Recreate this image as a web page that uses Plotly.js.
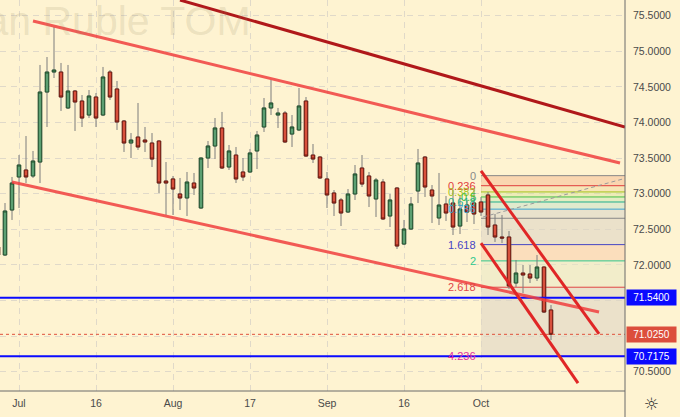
<!DOCTYPE html>
<html>
<head>
<meta charset="utf-8">
<script src="https://cdn.plot.ly/plotly-3.0.1.min.js"></script>
<style>
html,body{margin:0;padding:0;background:#fef3d1;}
#chart{width:680px;height:417px;}
</style>
</head>
<body>
<div id="chart"></div>
<script>
// ---- data ----
const dates = [
 '2021-06-28','2021-06-29','2021-06-30',
 '2021-07-01','2021-07-02','2021-07-05','2021-07-06','2021-07-07','2021-07-08','2021-07-09',
 '2021-07-12','2021-07-13','2021-07-14','2021-07-15','2021-07-16','2021-07-19','2021-07-20',
 '2021-07-21','2021-07-22','2021-07-23','2021-07-26','2021-07-27','2021-07-28','2021-07-29','2021-07-30',
 '2021-08-02','2021-08-03','2021-08-04','2021-08-05','2021-08-06','2021-08-09','2021-08-10',
 '2021-08-11','2021-08-12','2021-08-13','2021-08-16','2021-08-17','2021-08-18','2021-08-19',
 '2021-08-20','2021-08-23','2021-08-24','2021-08-25','2021-08-26','2021-08-27','2021-08-30','2021-08-31',
 '2021-09-01','2021-09-02','2021-09-03','2021-09-06','2021-09-07','2021-09-08','2021-09-09',
 '2021-09-10','2021-09-13','2021-09-14','2021-09-15','2021-09-16','2021-09-17','2021-09-20',
 '2021-09-21','2021-09-22','2021-09-23','2021-09-24','2021-09-27','2021-09-28','2021-09-29','2021-09-30',
 '2021-10-01','2021-10-04','2021-10-05','2021-10-06','2021-10-07','2021-10-08','2021-10-11',
 '2021-10-12','2021-10-13','2021-10-14','2021-10-15'
];
const openP = [
 72.251,72.139,72.771,73.235,73.333,73.249,73.445,74.428,74.709,74.709,
 74.204,74.442,74.302,74.105,74.358,74.105,74.709,74.471,74.021,73.712,
 73.796,73.754,73.712,73.740,73.178,73.207,72.996,72.940,73.150,72.799,
 73.501,73.670,73.923,73.375,73.543,73.305,73.305,73.600,73.937,74.204,
 74.105,74.133,73.838,73.895,74.302,73.543,73.515,73.207,73.010,72.912,
 72.743,72.996,73.361,73.249,72.926,73.164,72.687,73.080,72.293,72.504,
 73.038,73.515,73.052,72.659,72.855,72.869,72.546,72.841,72.869,72.883,
 72.982,72.560,72.392,72.392,71.746,71.886,71.872,71.816,71.970,71.367
];
const highP = [
 72.307,72.869,73.235,73.543,73.810,73.600,74.808,74.920,75.341,74.836,
 74.808,74.456,74.386,74.456,74.414,74.780,74.737,74.583,74.035,73.852,
 74.274,73.937,73.852,73.752,73.445,73.249,73.221,73.305,73.291,73.510,
 73.740,74.063,74.148,73.684,73.656,73.501,73.628,73.881,74.344,74.597,
 74.204,74.162,74.105,74.485,74.358,73.698,73.525,73.305,73.052,72.940,
 73.066,73.403,73.543,73.305,73.221,73.207,72.996,73.090,72.631,72.954,
 73.628,73.525,73.122,73.291,72.968,73.052,72.968,72.912,73.052,72.954,
 73.024,72.715,72.701,72.476,72.069,71.999,71.999,72.139,71.980,71.437
];
const lowP = [
 72.097,72.125,72.631,72.799,73.150,73.221,73.150,73.937,74.625,74.162,
 74.190,73.881,73.937,74.063,73.937,74.090,74.316,73.895,73.586,73.501,
 73.614,73.586,73.375,73.010,72.701,72.701,72.771,72.687,72.982,72.790,
 73.361,73.487,73.347,73.333,73.150,73.178,73.295,73.347,73.867,74.105,
 73.923,73.712,73.656,73.880,73.520,73.431,73.210,72.799,72.687,72.546,
 72.729,72.912,73.094,72.813,72.673,72.631,72.532,72.223,72.279,72.490,
 72.869,72.954,72.589,72.560,72.617,72.420,72.434,72.603,72.574,72.687,
 72.420,72.322,72.307,71.662,71.690,71.605,71.746,71.774,71.324,70.945
];
const closeP = [
 72.139,72.757,73.150,73.403,73.235,73.459,74.428,74.709,74.737,74.358,
 74.442,74.288,74.063,74.372,74.063,74.639,74.358,74.007,73.712,73.754,
 73.656,73.726,73.487,73.150,73.150,73.066,72.940,73.164,73.080,73.501,
 73.670,73.923,73.361,73.600,73.207,73.235,73.572,73.824,74.204,74.274,
 74.133,73.726,73.937,74.232,73.529,73.487,73.221,72.982,72.869,72.729,
 72.996,73.277,73.136,72.968,73.192,72.645,72.912,72.265,72.504,72.855,
 73.431,73.094,72.968,72.841,72.729,72.532,72.785,72.743,72.715,72.743,
 72.532,72.392,72.378,71.704,71.886,71.858,71.816,71.970,71.338,71.025
];
const xTickDates = ['2021-07-01','2021-07-16','2021-08-02','2021-08-17','2021-09-01','2021-09-16','2021-10-01'];
const xTickText = ['Jul','16','Aug','17','Sep','16','Oct'];
const yTickVals = [70.5,71.0,71.5,72.0,72.5,73.0,73.5,74.0,74.5,75.0,75.5];
const yTickHidden = [71.0,71.5];
const levelPrices = [71.54, 70.7175];
// Fibonacci extension tool
const fibLevels = [0,0.236,0.382,0.5,0.618,0.786,1,1.618,2,2.618,4.236];
const fibLabelShown = [true,true,true,true,true,true,false,true,true,true,true];
const fibZero = 73.2535;
const fibStep = 0.5986;
const fibStartIdx = 69.0;
// trend lines: bar index + price of both ends
const trendStartIdx   = [5.0,    2.0,    26.0,   69.0,   69.0];
const trendStartPrice = [75.426, 73.164, 75.720, 73.319, 72.307];
const trendEndIdx     = [88.86,  85.86,  89.57,  85.86,  82.86];
const trendEndPrice   = [73.431, 71.338, 73.937, 71.030, 70.341];
const fibGuideIdx   = [69.3, 90.2];
const fibGuidePrice = [72.673, 73.232];

// ---- styles ----
const BG = '#fef3d1';
const FONT = 'Liberation Sans, Arial, sans-serif';
const upFill = '#5c9f72', upLine = '#24532f';
const dnFill = '#d8503c', dnLine = '#6e1a10';
const wickColor = '#7c7c7c';
const trendColors = ['rgba(240,62,62,0.85)','rgba(240,62,62,0.85)','#b0181a','#e02626','#e02626'];
const fibColors = ['#888888','#e03c3c','#a4c41c','#44c044','#1fb08c','#3aa2d2','#888888','#4646c4','#2ec88e','#e04646','#e0329e'];
const fibBandColors = ['rgba(246,190,150,0.55)','rgba(240,215,150,0.45)','rgba(215,228,150,0.45)','rgba(190,228,170,0.4)',
  'rgba(180,220,200,0.4)','rgba(215,212,200,0.55)','rgba(222,214,196,0.6)','rgba(250,212,180,0.7)','rgba(232,232,196,0.55)','rgba(222,214,196,0.6)'];

// ---- build ----
const bodyHigh = openP.map((o,i)=>Math.max(o,closeP[i]));
const bodyLow  = openP.map((o,i)=>Math.min(o,closeP[i]));

const wicks = {
  type:'candlestick', x:dates, open:openP, high:highP, low:lowP, close:closeP,
  increasing:{line:{color:wickColor,width:1}, fillcolor:upFill},
  decreasing:{line:{color:wickColor,width:1}, fillcolor:dnFill},
  whiskerwidth:0, hoverinfo:'skip', showlegend:false
};
const bodies = {
  type:'candlestick', x:dates, open:openP, high:bodyHigh, low:bodyLow, close:closeP,
  increasing:{line:{color:upLine,width:1}, fillcolor:upFill},
  decreasing:{line:{color:dnLine,width:1}, fillcolor:dnFill},
  whiskerwidth:0, hoverinfo:'skip', showlegend:false
};

const shapes = [];
const annotations = [];
const lastIdx = dates.length - 1;
const xEnd = 89.6;

// fib bands + lines
const fibPrice = fibLevels.map(l => fibZero - l*fibStep);
for (let i=0;i<fibLevels.length-1;i++){
  shapes.push({type:'rect', xref:'x', yref:'y', x0:fibStartIdx, x1:xEnd, y0:fibPrice[i], y1:fibPrice[i+1],
    fillcolor:fibBandColors[i], line:{width:0}, layer:'between'});
}
fibLevels.forEach((l,i)=>{
  shapes.push({type:'line', xref:'x', yref:'y', x0:fibStartIdx, x1:xEnd, y0:fibPrice[i], y1:fibPrice[i],
    line:{color:fibColors[i], width:1}, layer:'between'});
  if (fibLabelShown[i]) annotations.push({xref:'x', yref:'y', x:fibStartIdx-0.45, y:fibPrice[i], text:String(l),
    xanchor:'right', yanchor:'middle', showarrow:false, font:{family:FONT,size:11,color:fibColors[i]}});
});
shapes.push({type:'line', xref:'x', yref:'y', x0:fibGuideIdx[0], x1:fibGuideIdx[1], y0:fibGuidePrice[0], y1:fibGuidePrice[1],
  line:{color:'#9a9a9a', width:1, dash:'4px,3px'}, layer:'above'});

// horizontal levels
levelPrices.forEach(p=>{
  shapes.push({type:'line', xref:'paper', yref:'y', x0:0, x1:1, y0:p, y1:p, line:{color:'#0a0aff', width:2}, layer:'above'});
  annotations.push({xref:'paper', yref:'y', x:626/625, y:p, xanchor:'left', yanchor:'middle', text:p.toFixed(4),
    showarrow:false, bgcolor:'#0a0aff', font:{family:FONT,size:10,color:'#ffffff'}, width:45, height:11, borderpad:2});
});
// last price
const lastPrice = closeP[lastIdx];
shapes.push({type:'line', xref:'paper', yref:'y', x0:0, x1:1, y0:lastPrice, y1:lastPrice, line:{color:'#e0503c', width:1, dash:'dot'}, layer:'above'});
annotations.push({xref:'paper', yref:'y', x:626/625, y:lastPrice, xanchor:'left', yanchor:'middle', text:lastPrice.toFixed(4),
  showarrow:false, bgcolor:'#dc4e3c', font:{family:FONT,size:10,color:'#ffffff'}, width:45, height:11, borderpad:2});

// trend lines
trendStartIdx.forEach((x0,i)=>{
  shapes.push({type:'line', xref:'x', yref:'y', x0:x0, x1:trendEndIdx[i], y0:trendStartPrice[i], y1:trendEndPrice[i],
    line:{color:trendColors[i], width:3}, layer:'above'});
});

// axis frame lines
shapes.push({type:'line', xref:'paper', yref:'paper', x0:1, x1:1, y0:-26/391, y1:1, line:{color:'#6a6a6a', width:1}});
shapes.push({type:'line', xref:'paper', yref:'paper', x0:0, x1:1, y0:0, y1:0, line:{color:'#6a6a6a', width:1}});

// watermark
annotations.push({xref:'paper', yref:'paper', x:253/625, y:1+4/391, xanchor:'right', yanchor:'top', text:'Russian Ruble TOM',
  showarrow:false, font:{family:FONT, size:41, color:'rgba(150,135,95,0.18)'}});
// settings icon
annotations.push({xref:'paper', yref:'paper', x:652/625, y:-13/391, xanchor:'center', yanchor:'middle', text:'☼',
  showarrow:false, font:{family:'DejaVu Sans', size:17, color:'#333333'}});

const layout = {
  width:680, height:417,
  margin:{l:0, r:55, t:0, b:26, pad:0},
  paper_bgcolor:BG, plot_bgcolor:BG,
  showlegend:false,
  xaxis:{type:'category', range:[2/7, 2/7 + 625/7], rangeslider:{visible:false},
    tickvals:xTickDates, ticktext:xTickText, ticks:'', showline:false, zeroline:false,
    showgrid:true, gridcolor:'rgba(170,170,185,0.35)', griddash:'6px,5px', gridwidth:1,
    tickfont:{family:FONT, size:10.5, color:'#4a4a4a'}, ticklabelstandoff:4, fixedrange:true},
  yaxis:{side:'right', range:[70.229, 75.7205], tickvals:yTickVals,
    ticktext:yTickVals.map(v => yTickHidden.includes(v) ? '' : v.toFixed(4)),
    ticks:'', showline:false, zeroline:false,
    showgrid:true, gridcolor:'rgba(170,170,185,0.35)', griddash:'6px,5px', gridwidth:1,
    tickfont:{family:FONT, size:10.5, color:'#4a4a4a'}, ticklabelstandoff:7, fixedrange:true},
  shapes:shapes, annotations:annotations,
  boxgap:0.3, boxgroupgap:0.3
};
Plotly.newPlot('chart', [wicks, bodies], layout, {displayModeBar:false, staticPlot:true});
</script>
</body>
</html>
